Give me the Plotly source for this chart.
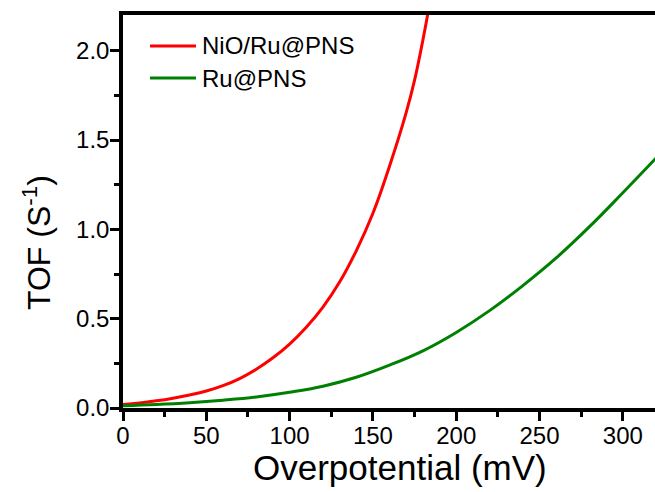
import plotly.graph_objects as go

# ---- data ----
red_x = [0, 10, 20, 30, 40, 50, 60, 70, 80, 90, 100, 110, 120, 130, 140, 150, 160, 170, 175, 180, 183]
red_y = [0.020, 0.028, 0.040, 0.055, 0.073, 0.095, 0.125, 0.165, 0.217, 0.281, 0.358, 0.452,
         0.565, 0.705, 0.880, 1.090, 1.355, 1.655, 1.835, 2.060, 2.210]

green_x = [0, 20, 40, 60, 80, 100, 120, 140, 160, 180, 200, 220, 240, 260, 280, 300, 320]
green_y = [0.013, 0.020, 0.030, 0.044, 0.062, 0.088, 0.122, 0.172, 0.240, 0.320, 0.423,
           0.545, 0.685, 0.840, 1.015, 1.205, 1.400]

series_names = ["NiO/Ru@PNS", "Ru@PNS"]
series_colors = ["#ff0000", "#008000"]

x_ticks = [0, 50, 100, 150, 200, 250, 300]
y_ticks = [0.0, 0.5, 1.0, 1.5, 2.0]

FONT = "Arial, 'Liberation Sans', sans-serif"

W, H = 655, 492
ML, MR, MT, MB = 123, 0, 15, 84
PW, PH = W - ML - MR, H - MT - MB


def px_to_paper(px, py):
    return (px - ML) / PW, (H - MB - py) / PH


fig = go.Figure()
fig.add_trace(go.Scatter(x=red_x, y=red_y, mode="lines", name=series_names[0],
                         line=dict(color=series_colors[0], width=3, shape="spline", smoothing=1.2),
                         showlegend=False))
fig.add_trace(go.Scatter(x=green_x, y=green_y, mode="lines", name=series_names[1],
                         line=dict(color=series_colors[1], width=3, shape="spline", smoothing=1.2),
                         showlegend=False))

axis_common = dict(
    showgrid=False, zeroline=False,
    showline=True, linecolor="black", linewidth=3.5,
    ticks="outside", ticklen=9, tickwidth=3, tickcolor="black",
    tickfont=dict(family=FONT, size=24, color="black"),
)

fig.update_xaxes(range=[0, 319.3], tickvals=x_ticks, ticktext=[str(v) for v in x_ticks],
                 mirror=True, ticklabelstandoff=-6,
                 minor=dict(ticks="outside", ticklen=5, tickwidth=3, tickcolor="black", dtick=25, tick0=0),
                 **axis_common)
fig.update_yaxes(range=[0, 2.2], tickvals=y_ticks, ticktext=[f"{v:.1f}" for v in y_ticks],
                 mirror=False, ticklabelstandoff=-4,
                 minor=dict(ticks="outside", ticklen=5, tickwidth=3, tickcolor="black", dtick=0.25, tick0=0),
                 **axis_common)

annotations = []
# axis titles
tx, ty = px_to_paper(400, 467)
annotations.append(dict(text="Overpotential (mV)", x=tx, y=ty, xref="paper", yref="paper",
                        xanchor="center", yanchor="middle", showarrow=False,
                        font=dict(family=FONT, size=35, color="black")))
tx, ty = px_to_paper(37, 243)
annotations.append(dict(text="TOF (S<sup>-1</sup>)", x=tx, y=ty, xref="paper", yref="paper",
                        xanchor="center", yanchor="middle", showarrow=False, textangle=-90,
                        font=dict(family=FONT, size=32, color="black")))

# legend (drawn manually to match the long sample lines)
shapes = []
for i, (name, col) in enumerate(zip(series_names, series_colors)):
    ly = 46 + i * 32
    x0, y0 = px_to_paper(150, ly)
    x1, _ = px_to_paper(196, ly)
    shapes.append(dict(type="line", xref="paper", yref="paper", x0=x0, x1=x1, y0=y0, y1=y0,
                       line=dict(color=col, width=3)))
    ax_, ay_ = px_to_paper(200, ly)
    annotations.append(dict(text=name, x=ax_, y=ay_, xref="paper", yref="paper",
                            xanchor="left", yanchor="middle", showarrow=False,
                            font=dict(family=FONT, size=24, color="black")))

fig.update_layout(
    width=W, height=H,
    margin=dict(l=ML, r=MR, t=MT, b=MB, pad=0),
    paper_bgcolor="white", plot_bgcolor="white",
    annotations=annotations, shapes=shapes,
    showlegend=False,
)

fig.write_html(
    "out.html",
    config={"displayModeBar": False},
    post_script="document.body.style.margin='0';document.body.style.overflow='hidden';",
)
